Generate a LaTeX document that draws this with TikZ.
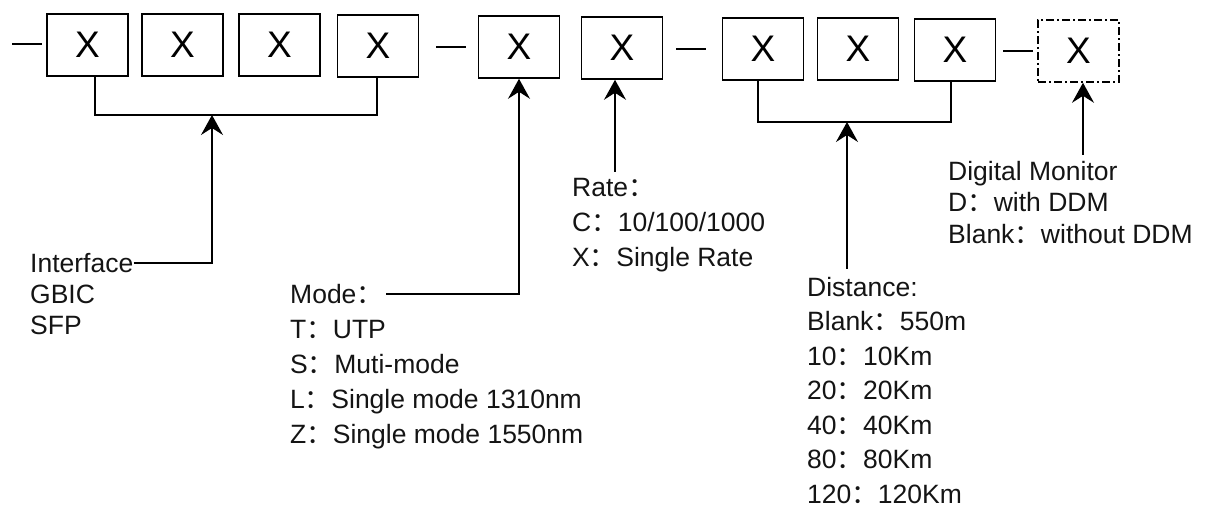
\documentclass[tikz,border=0pt]{standalone}
\usepackage{fontspec}
\setmainfont{Liberation Sans}
\newfontfamily\cjk{Noto Sans CJK SC}
\usetikzlibrary{arrows.meta}
\newcommand{\cc}{{\cjk ：}}
\begin{document}
\begin{tikzpicture}[x=1pt,y=-1pt,
  codebox/.style={draw, line width=1.6pt, minimum width=81pt, minimum height=62pt, inner sep=0pt,
    font=\fontsize{37}{42}\selectfont},
  optbox/.style={codebox, dash pattern=on 8pt off 3pt on 2pt off 3pt},
  sepline/.style={line width=1.6pt},
  conn/.style={line width=1.7pt},
  arr/.style={conn, -{Stealth[length=20pt,width=22pt,inset=7pt]}},
  lbl/.style={anchor=west, inner sep=0pt, text height=18.8pt, text depth=0pt,
    font=\fontsize{26.5}{30}\selectfont, text=black!92}]
\useasboundingbox (0,0) rectangle (1205,510);

% code boxes
\node[codebox] (b1) at (87.5,45) {X};
\node[codebox] (b2) at (182.5,45) {X};
\node[codebox] (b3) at (279.5,45) {X};
\node[codebox] (b4) at (378,46) {X};
\node[codebox] (b5) at (519,47) {X};
\node[codebox] (b6) at (622,48) {X};
\node[codebox] (b7) at (763,49) {X};
\node[codebox] (b8) at (858,49) {X};
\node[codebox] (b9) at (955,50) {X};
\node[optbox] (b10) at (1078.5,51) {X};

% separator dashes
\coordinate (d1a) at (12,44);  \coordinate (d1b) at (42,44);
\coordinate (d2a) at (436,47); \coordinate (d2b) at (466,47);
\coordinate (d3a) at (676,49); \coordinate (d3b) at (706,49);
\coordinate (d4a) at (1003,51);\coordinate (d4b) at (1033,51);
\draw[sepline] (d1a) -- (d1b);
\draw[sepline] (d2a) -- (d2b);
\draw[sepline] (d3a) -- (d3b);
\draw[sepline] (d4a) -- (d4b);

% brackets
\coordinate (br1l) at (95,115);  \coordinate (br1r) at (377,115);
\coordinate (br2l) at (758,122); \coordinate (br2r) at (951,122);
\draw[conn] (b1.south -| br1l) -- (br1l) -- (br1r) -- (b4.south -| br1r);
\draw[conn] (b7.south -| br2l) -- (br2l) -- (br2r) -- (b9.south -| br2r);

% Interface
\node[lbl] (if0) at (30,263) {Interface};
\node[lbl] (if1) at (30,294) {GBIC};
\node[lbl] (if2) at (30,325) {SFP};
\coordinate (ia) at (212,115);
\draw[arr] (if0.east) -- (if0.east -| ia) -- (ia);

% Mode
\node[lbl] (md0) at (290,294) {Mode\cc};
\node[lbl] (md1) at (290,329) {T\cc UTP};
\node[lbl] (md2) at (290,364) {S\cc Muti-mode};
\node[lbl] (md3) at (290,399) {L\cc Single mode 1310nm};
\node[lbl] (md4) at (290,434) {Z\cc Single mode 1550nm};
\draw[arr] ([xshift=3pt]md0.east) -- (md0.east -| b5.south) -- (b5.south);

% Rate
\node[lbl] (rt0) at (572,187) {Rate\cc};
\node[lbl] (rt1) at (572,222) {C\cc 10/100/1000};
\node[lbl] (rt2) at (572,257) {X\cc Single Rate};
\coordinate (rtop) at (615,172);
\draw[arr] (rtop) -- (b6.south -| rtop);

% Distance
\node[lbl] (ds0) at (807,287) {Distance:};
\node[lbl] (ds1) at (807,321.5) {Blank\cc 550m};
\node[lbl] (ds2) at (807,356) {10\cc 10Km};
\node[lbl] (ds3) at (807,390.5) {20\cc 20Km};
\node[lbl] (ds4) at (807,425) {40\cc 40Km};
\node[lbl] (ds5) at (807,459.5) {80\cc 80Km};
\node[lbl] (ds6) at (807,494) {120\cc 120Km};
\coordinate (dtop) at (847,269);
\draw[arr] (dtop) -- (dtop |- br2l);

% Digital Monitor
\node[lbl] (dm0) at (948,171) {Digital Monitor};
\node[lbl] (dm1) at (948,202) {D\cc with DDM};
\node[lbl] (dm2) at (948,234) {Blank\cc without DDM};
\coordinate (mtop) at (1083,155);
\draw[arr] (mtop) -- (b10.south -| mtop);
\end{tikzpicture}
\end{document}
